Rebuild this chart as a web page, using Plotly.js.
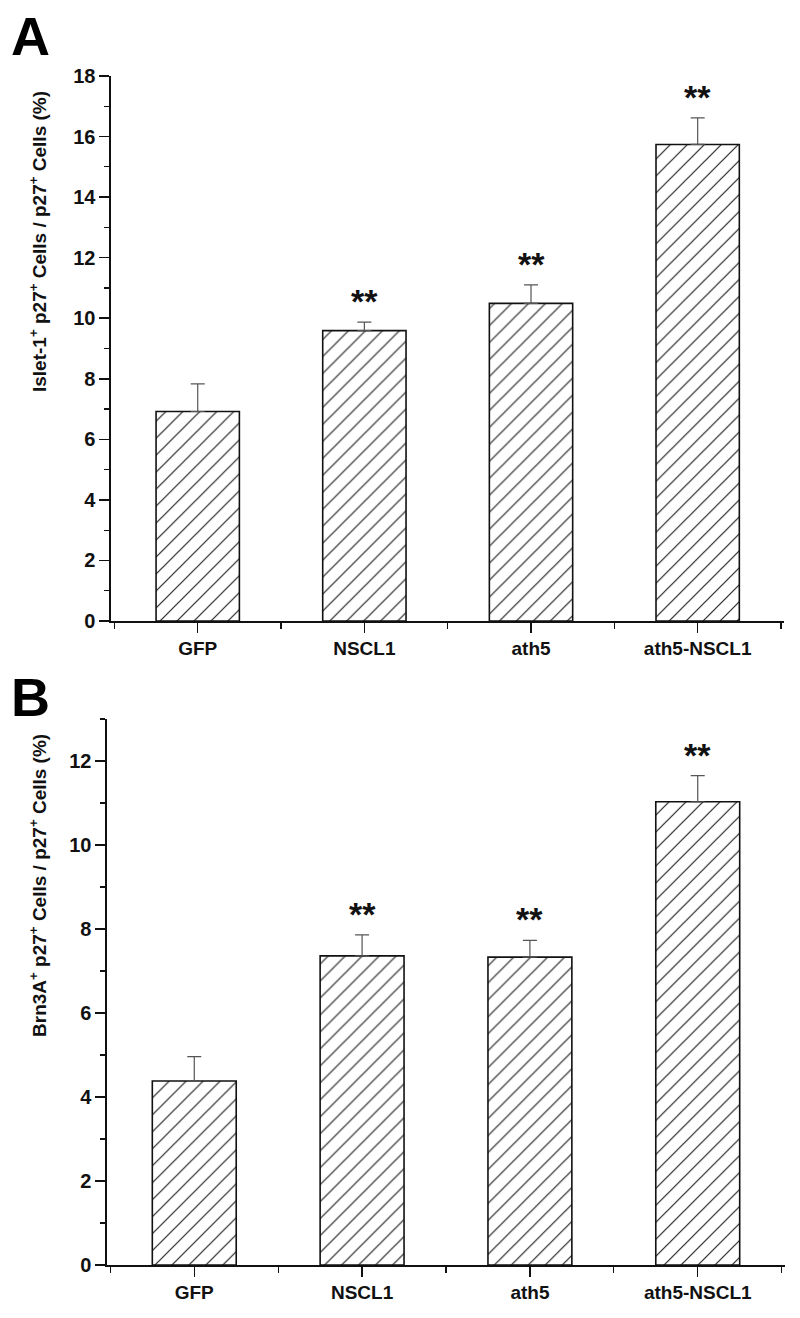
<!DOCTYPE html>
<html>
<head>
<meta charset="utf-8">
<script src="https://cdn.plot.ly/plotly-3.0.1.min.js"></script>
<style>
html,body{margin:0;padding:0;background:#fff;}
#chart{width:800px;height:1318px;}
</style>
</head>
<body>
<div id="chart"></div>
<script>
// ---- data ----
const categories = ['GFP', 'NSCL1', 'ath5', 'ath5-NSCL1'];
const isletValues = [6.92, 9.59, 10.49, 15.74];
const isletErrors = [0.91, 0.28, 0.61, 0.88];
const isletStars = ['', '**', '**', '**'];
const brnValues = [4.38, 7.36, 7.33, 11.03];
const brnErrors = [0.58, 0.50, 0.40, 0.62];
const brnStars = ['', '**', '**', '**'];
const isletTitle = 'Islet-1<sup>+</sup> p27<sup>+</sup> Cells / p27<sup>+</sup> Cells (%)';
const brnTitle = 'Brn3A<sup>+</sup> p27<sup>+</sup> Cells / p27<sup>+</sup> Cells (%)';
const panelLabels = ['A', 'B'];

const idx = categories.map((c, i) => i);
const FONT = 'Liberation Sans, Arial, sans-serif';

function barTrace(vals, errs, xa, ya) {
  return {
    type: 'bar', x: idx, y: vals, xaxis: xa, yaxis: ya, width: 0.5,
    marker: {
      color: '#ffffff',
      line: {color: '#111', width: 1.6},
      pattern: {shape: '/', fgcolor: '#222', bgcolor: '#ffffff', size: 12, solidity: 0.1}
    },
    error_y: {type: 'data', symmetric: false, array: errs, arrayminus: errs.map(() => 0),
              color: '#555', thickness: 1.2, width: 7},
    showlegend: false, hoverinfo: 'skip'
  };
}

const data = [
  barTrace(isletValues, isletErrors, 'x', 'y'),
  barTrace(brnValues, brnErrors, 'x2', 'y2')
];

function xAxis(domain, anchor) {
  return {
    domain: domain, anchor: anchor, range: [-0.52, 3.52], type: 'linear',
    tickvals: idx, ticktext: categories,
    showline: true, linecolor: '#111', linewidth: 1.6,
    ticks: 'outside', ticklen: 10, tickwidth: 1.5, tickcolor: '#111',
    minor: {tick0: 0.5, dtick: 1, ticks: 'outside', ticklen: 6, tickwidth: 1.3, tickcolor: '#111', showgrid: false},
    showgrid: false, zeroline: false, fixedrange: true,
    tickfont: {family: FONT, size: 19, color: '#111', weight: 'bold'}
  };
}
function yAxis(domain, anchor, range) {
  return {
    domain: domain, anchor: anchor, range: range, dtick: 2, tick0: 0,
    showline: true, linecolor: '#111', linewidth: 1.6,
    ticks: 'outside', ticklen: 10, tickwidth: 1.5, tickcolor: '#111',
    minor: {dtick: 1, ticks: 'outside', ticklen: 5, tickwidth: 1.3, tickcolor: '#111', showgrid: false},
    showgrid: false, zeroline: false, fixedrange: true,
    tickfont: {family: FONT, size: 20, color: '#111', weight: 'bold'}
  };
}

const annotations = [];
function stars(vals, errs, labels, xr, yr) {
  labels.forEach((s, i) => {
    if (!s) return;
    annotations.push({
      x: idx[i], y: vals[i] + errs[i], xref: xr, yref: yr,
      text: s, showarrow: false, yanchor: 'bottom', yshift: 0,
      font: {family: FONT, size: 34, color: '#111', weight: 'bold'}
    });
  });
}
stars(isletValues, isletErrors, isletStars, 'x', 'y');
stars(brnValues, brnErrors, brnStars, 'x2', 'y2');

annotations.push({xref: 'paper', yref: 'paper', x: -0.1018, y: 0.8612, text: isletTitle, textangle: -90,
  showarrow: false, xanchor: 'center', yanchor: 'middle',
  font: {family: FONT, size: 19, color: '#111', weight: 'bold'}});
annotations.push({xref: 'paper', yref: 'paper', x: -0.1018, y: 0.3196, text: brnTitle, textangle: -90,
  showarrow: false, xanchor: 'center', yanchor: 'middle',
  font: {family: FONT, size: 19, color: '#111', weight: 'bold'}});
annotations.push({xref: 'paper', yref: 'paper', x: -0.145, y: 1.034, text: panelLabels[0],
  showarrow: false, xanchor: 'left', yanchor: 'middle',
  font: {family: FONT, size: 54, color: '#000', weight: 'bold'}});
annotations.push({xref: 'paper', yref: 'paper', x: -0.145, y: 0.4777, text: panelLabels[1],
  showarrow: false, xanchor: 'left', yanchor: 'middle',
  font: {family: FONT, size: 54, color: '#000', weight: 'bold'}});

const layout = {
  width: 800, height: 1318,
  margin: {l: 107, r: 15, t: 76, b: 53},
  paper_bgcolor: '#fff', plot_bgcolor: '#fff',
  font: {family: FONT, color: '#111'},
  xaxis: xAxis([0.006, 0.999], 'y'),
  yaxis: yAxis([0.5416, 1], 'x', [0, 18]),
  xaxis2: xAxis([0, 1], 'y2'),
  yaxis2: yAxis([0, 0.4592], 'x2', [0, 13]),
  annotations: annotations,
  bargap: 0.5
};

Plotly.newPlot('chart', data, layout, {staticPlot: true, displayModeBar: false});
</script>
</body>
</html>
